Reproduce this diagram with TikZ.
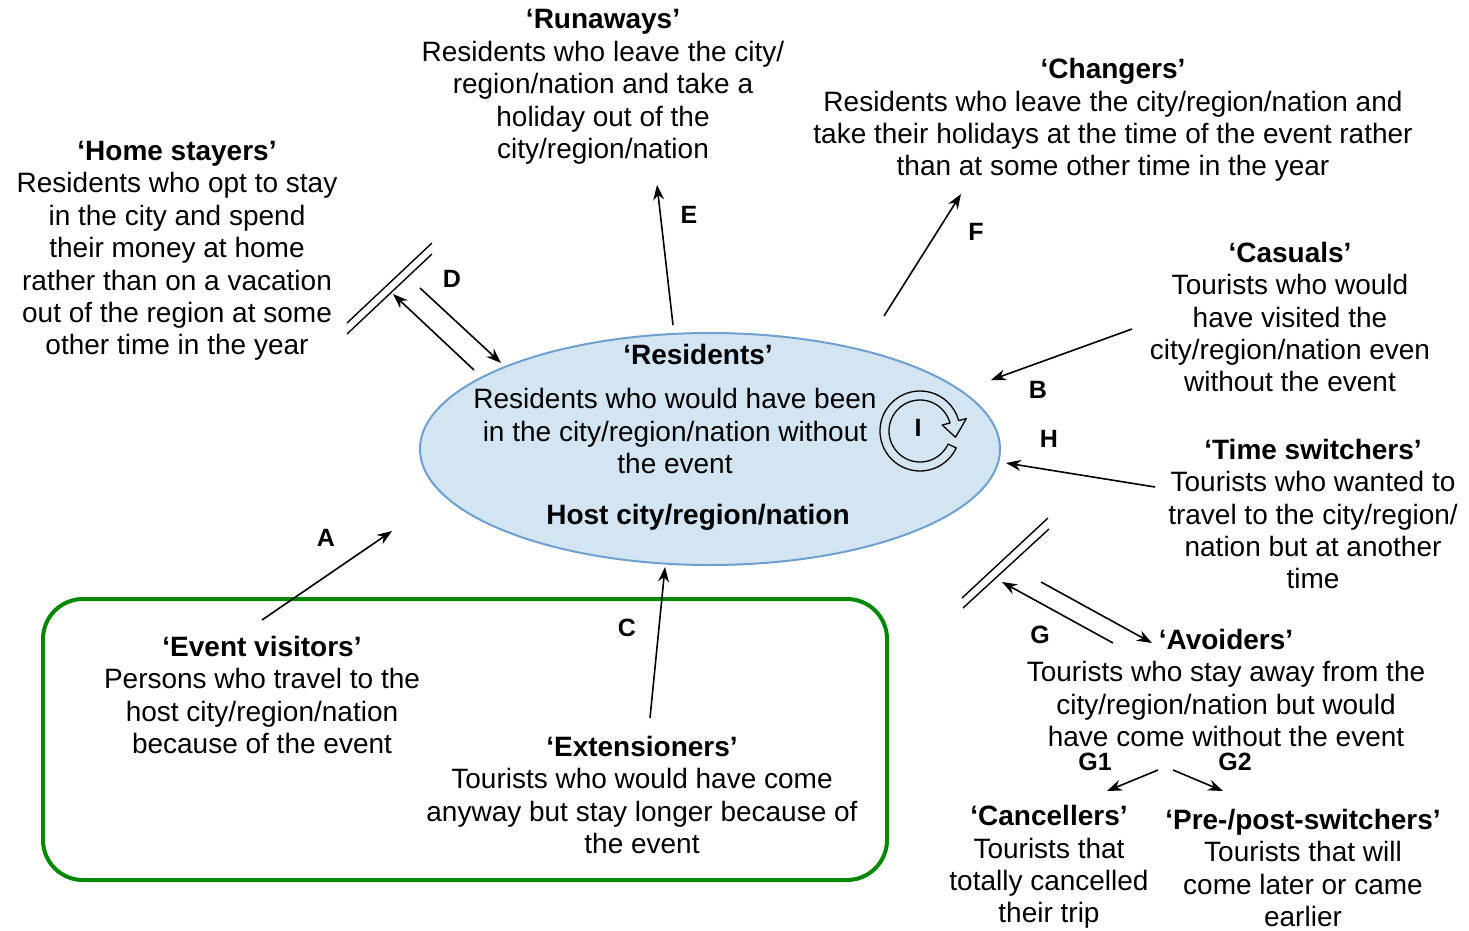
\documentclass[tikz,border=0pt]{standalone}
\usepackage{fontspec}
\setmainfont{Liberation Sans}
\usetikzlibrary{shapes.geometric,arrows.meta}
\definecolor{ellfill}{HTML}{D3E4F3}
\definecolor{elldraw}{HTML}{6E9FCD}
\definecolor{boxgreen}{HTML}{008800}
\begin{document}
\begin{tikzpicture}[x=1pt,y=-1pt,
  txt/.style={font=\fontsize{28}{32.4}\selectfont, align=center, inner sep=0pt},
  lett/.style={font=\fontsize{25}{30}\selectfont\bfseries, inner sep=0pt},
  arr/.style={line width=1.6pt, -{Stealth[length=15pt,width=11pt]}},
  bar/.style={line width=1.4pt},
  ring/.style={line width=1.3pt, line join=round}]
\useasboundingbox (0,0) rectangle (1469,931);

% host ellipse
\node[ellipse, draw=elldraw, fill=ellfill, line width=2pt, minimum width=580pt, minimum height=232pt, inner sep=0pt] (host) at (710,449) {};
\node[txt] (restitle) at (698,354) {\textbf{‘Residents’}};
\node[txt] (resbody) at (675,431) {Residents who would have been\\in the city/region/nation without\\the event};
\node[txt] (hostlbl) at (698,517) {\textbf{Host city/region/nation}};

% cycle arrow I
\draw[ring] plot[domain=25:345, samples=60] ({920+40*cos(\x)},{431+40*sin(\x)})
  -- ({920+48*cos(345)},{431+48*sin(345)})
  -- ({920+36*cos(10)},{431+36*sin(10)})
  -- ({920+23*cos(345)},{431+23*sin(345)})
  -- ({920+31*cos(345)},{431+31*sin(345)})
  -- plot[domain=345:25, samples=60] ({920+31*cos(\x)},{431+31*sin(\x)}) -- cycle;
\node[lett] (I) at (918,428) {I};

% text blocks
\node[txt] (run) at (603,87) {\textbf{‘Runaways’}\\Residents who leave the city/\\region/nation and take a\\holiday out of the\\city/region/nation};
\node[txt] (chg) at (1113,120) {\textbf{‘Changers’}\\Residents who leave the city/region/nation and\\take their holidays at the time of the event rather\\than at some other time in the year};
\node[txt] (home) at (177,251) {\textbf{‘Home stayers’}\\Residents who opt to stay\\in the city and spend\\their money at home\\rather than on a vacation\\out of the region at some\\other time in the year};
\node[txt] (cas) at (1290,317) {\textbf{‘Casuals’}\\Tourists who would\\have visited the\\city/region/nation even\\without the event};
\node[txt] (time) at (1313,514) {\textbf{‘Time switchers’}\\Tourists who wanted to\\travel to the city/region/\\nation but at another\\time};
\node[txt] (avo) at (1226,688) {\textbf{‘Avoiders’}\\Tourists who stay away from the\\city/region/nation but would\\have come without the event};
\node[txt] (canc) at (1049,867) {\textbf{‘Cancellers’}\\Tourists that\\totally cancelled\\their trip};
\node[txt] (pre) at (1303,868) {\textbf{‘Pre-/post-switchers’}\\Tourists that will\\come later or came\\earlier};
\node[txt] (evt) at (262,695) {\textbf{‘Event visitors’}\\Persons who travel to the\\host city/region/nation\\because of the event};
\node[txt] (ext) at (642,795) {\textbf{‘Extensioners’}\\Tourists who would have come\\anyway but stay longer because of\\the event};

% letters
\node[lett] (E) at (689,215) {E};
\node[lett] (F) at (976,232) {F};
\node[lett] (B) at (1038,390) {B};
\node[lett] (H) at (1049,439) {H};
\node[lett] (D) at (452,279) {D};
\node[lett] (G) at (1040,635) {G};
\node[lett] (A) at (326,538) {A};
\node[lett] (C) at (627,628) {C};
\node[lett] (G1) at (1095,762) {G1};
\node[lett] (G2) at (1235,762) {G2};

% green box
\draw[boxgreen, line width=4pt, rounded corners=40pt] (43,599) rectangle (887,880);

% connector end points
\coordinate (e0) at (673,325); \coordinate (e1) at (657,185);
\coordinate (f0) at (884,316); \coordinate (f1) at (961,194);
\coordinate (b0) at (1132,329); \coordinate (b1) at (991,380);
\coordinate (h0) at (1155,487); \coordinate (h1) at (1006,463);
\coordinate (a0) at (262,620); \coordinate (a1) at (392,531);
\coordinate (c0) at (650,718); \coordinate (c1) at (665,567);
\coordinate (d0) at (474,370); \coordinate (d1) at (393,294);
\coordinate (d2) at (420,288); \coordinate (d3) at (501,363);
\coordinate (g0) at (1113,643); \coordinate (g1) at (1002,582);
\coordinate (g2) at (1041,582); \coordinate (g3) at (1152,643);
\coordinate (s0) at (1158,770); \coordinate (s1) at (1107,791);
\coordinate (t0) at (1173,770); \coordinate (t1) at (1223,791);

\draw[arr] (e0) -- (e1);
\draw[arr] (f0) -- (f1);
\draw[arr] (b0) -- (b1);
\draw[arr] (h0) -- (h1);
\draw[arr] (a0) -- (a1);
\draw[arr] (c0) -- (c1);
\draw[arr] (d0) -- (d1);
\draw[arr] (d2) -- (d3);
\draw[arr] (g0) -- (g1);
\draw[arr] (g2) -- (g3);
\draw[arr] (s0) -- (s1);
\draw[arr] (t0) -- (t1);

% barriers
\draw[bar] (347,323) -- (432,243);
\draw[bar] (347,334) -- (432,254);
\draw[bar] (962,598) -- (1048,518);
\draw[bar] (963,608) -- (1049,529);
\end{tikzpicture}
\end{document}
